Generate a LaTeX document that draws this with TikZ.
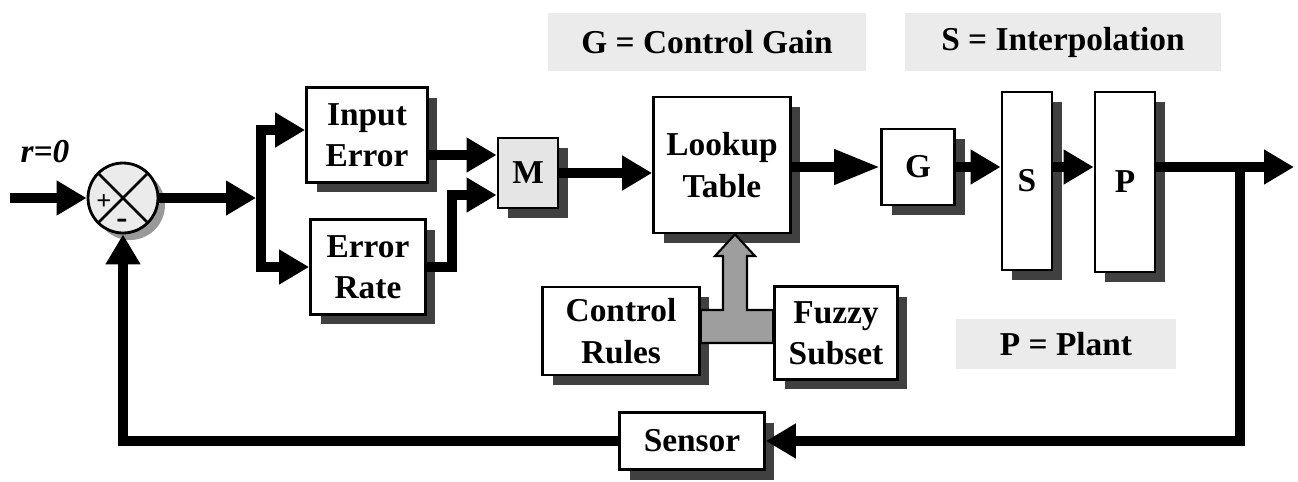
\documentclass[tikz,border=0pt]{standalone}
\usepackage{fontspec}
\setmainfont{Liberation Serif}
\usepackage{tikz}
\usetikzlibrary{arrows.meta,shadows,calc}

\begin{document}
\begin{tikzpicture}[x=0.02cm,y=-0.02cm,
			blk/.style={draw,line width=1.6pt,fill=white,align=center,inner sep=0pt,
				font=\bfseries\fontsize{19}{23.5}\selectfont,
				drop shadow={shadow xshift=0.2cm,shadow yshift=-0.2cm,fill=black!75,opacity=1}},
			note/.style={fill=black!8,inner sep=0pt,font=\bfseries\fontsize{19}{23.5}\selectfont},
			bus/.style={line width=0.2cm,-{Triangle[length=0.6cm,width=0.66cm]}},
			]
			\useasboundingbox (0,0) rectangle (1298,481);
			
			% legend
			\node[note,minimum width=6.38cm,minimum height=1.16cm] (gain) at (707,42) {G = Control Gain};
			\node[note,minimum width=6.34cm,minimum height=1.16cm] (interp) at (1063,42) {S = Interpolation};
			\node[note,minimum width=4.4cm,minimum height=1cm] (plant) at (1066,344) {P = Plant};
			
			% summing point
			\node[circle,draw,line width=1.6pt,fill=black!8,minimum size=1.4cm,
			drop shadow={shadow xshift=0.14cm,shadow yshift=-0.14cm,fill=black!40,opacity=1}] (sum) at (123,198) {};
			\draw[line width=1.6pt] (sum.north west) -- (sum.south east);
			\draw[line width=1.6pt] (sum.north east) -- (sum.south west);
			\node[font=\bfseries\fontsize{15}{15}\selectfont] (plus) at (104,202) {+};
			\node[font=\bfseries\fontsize{19}{19}\selectfont] (minus) at (122,224) {-};
			\node[font=\bfseries\itshape\fontsize{19}{19}\selectfont] (ref) at (45,152) {r=0};
			
			% blocks
			\node[blk,minimum width=2.42cm,minimum height=1.9cm] (ie) at (367,135) {Input\\Error};
			\node[blk,minimum width=2.3cm,minimum height=1.9cm] (er) at (368,267) {Error\\Rate};
			\node[blk,fill=black!10,minimum width=1.2cm,minimum height=1.4cm] (m) at (528,173) {M};
			\node[blk,minimum width=2.74cm,minimum height=2.72cm] (lt) at (722,165) {Lookup\\Table};
			\node[blk,minimum width=1.46cm,minimum height=1.52cm] (g) at (918,167) {G};
			\node[blk,minimum width=1cm,minimum height=3.56cm] (s) at (1027,181) {S};
			\node[blk,minimum width=1.2cm,minimum height=3.6cm] (p) at (1125,182) {P};
			\node[blk,minimum width=3.14cm,minimum height=1.76cm] (cr) at (621,331) {Control\\Rules};
			\node[blk,minimum width=2.46cm,minimum height=1.86cm] (fs) at (836,333) {Fuzzy\\Subset};
			\node[blk,minimum width=2.9cm,minimum height=1.14cm] (sen) at (692,441) {Sensor};
			
			% forward path
			\coordinate (in) at (10,198);
			\coordinate (split) at (261,198);
			\draw[bus] (in) -- (sum.west);
			\draw[bus] (sum.east) -- ([xshift=-0.1cm]split);
			\draw[bus] (split) |- ([yshift=0.1cm]ie.west);
			\draw[bus] (split) |- (er.west);
			\coordinate (m1) at ([yshift=0.36cm]m.west);
			\coordinate (m2) at ([yshift=-0.44cm]m.west);
			\draw[bus] (m1 -| ie.east) -- (m1);
			\draw[bus] (er.east) -- ++(25,0) |- (m2);
			\draw[bus] (m.east) -- (m.east -| lt.west);
			\draw[bus,-{Triangle[length=0.92cm,width=0.66cm]}] (lt.east |- g.west) -- (g.west);
			\draw[bus] (g.east) -- (g.east -| s.west);
			\draw[bus] (s.east |- g.east) -- (p.west |- g.east);
			
			% output and feedback
			\coordinate (out) at (1294,167);
			\coordinate (tap) at (1240,167);
			\draw[bus] (p.east |- g.east) -- (out);
			\draw[bus] (tap) |- (sen.east);
			\draw[bus] (sen.west) -| (sum.south);
			
			% rules and subsets into the table
			\draw[line width=1.2pt,fill=black!38] (cr.east |- 0,310) -- (723,310) -- (723,256) -- (715,256)
			-- (lt.south -| 735,0) -- (755,256) -- (747,256) -- (747,310) -- (fs.west |- 0,310)
			-- (fs.west |- 0,343) -- (cr.east |- 0,343) -- cycle;
		\end{tikzpicture}
\end{document}
